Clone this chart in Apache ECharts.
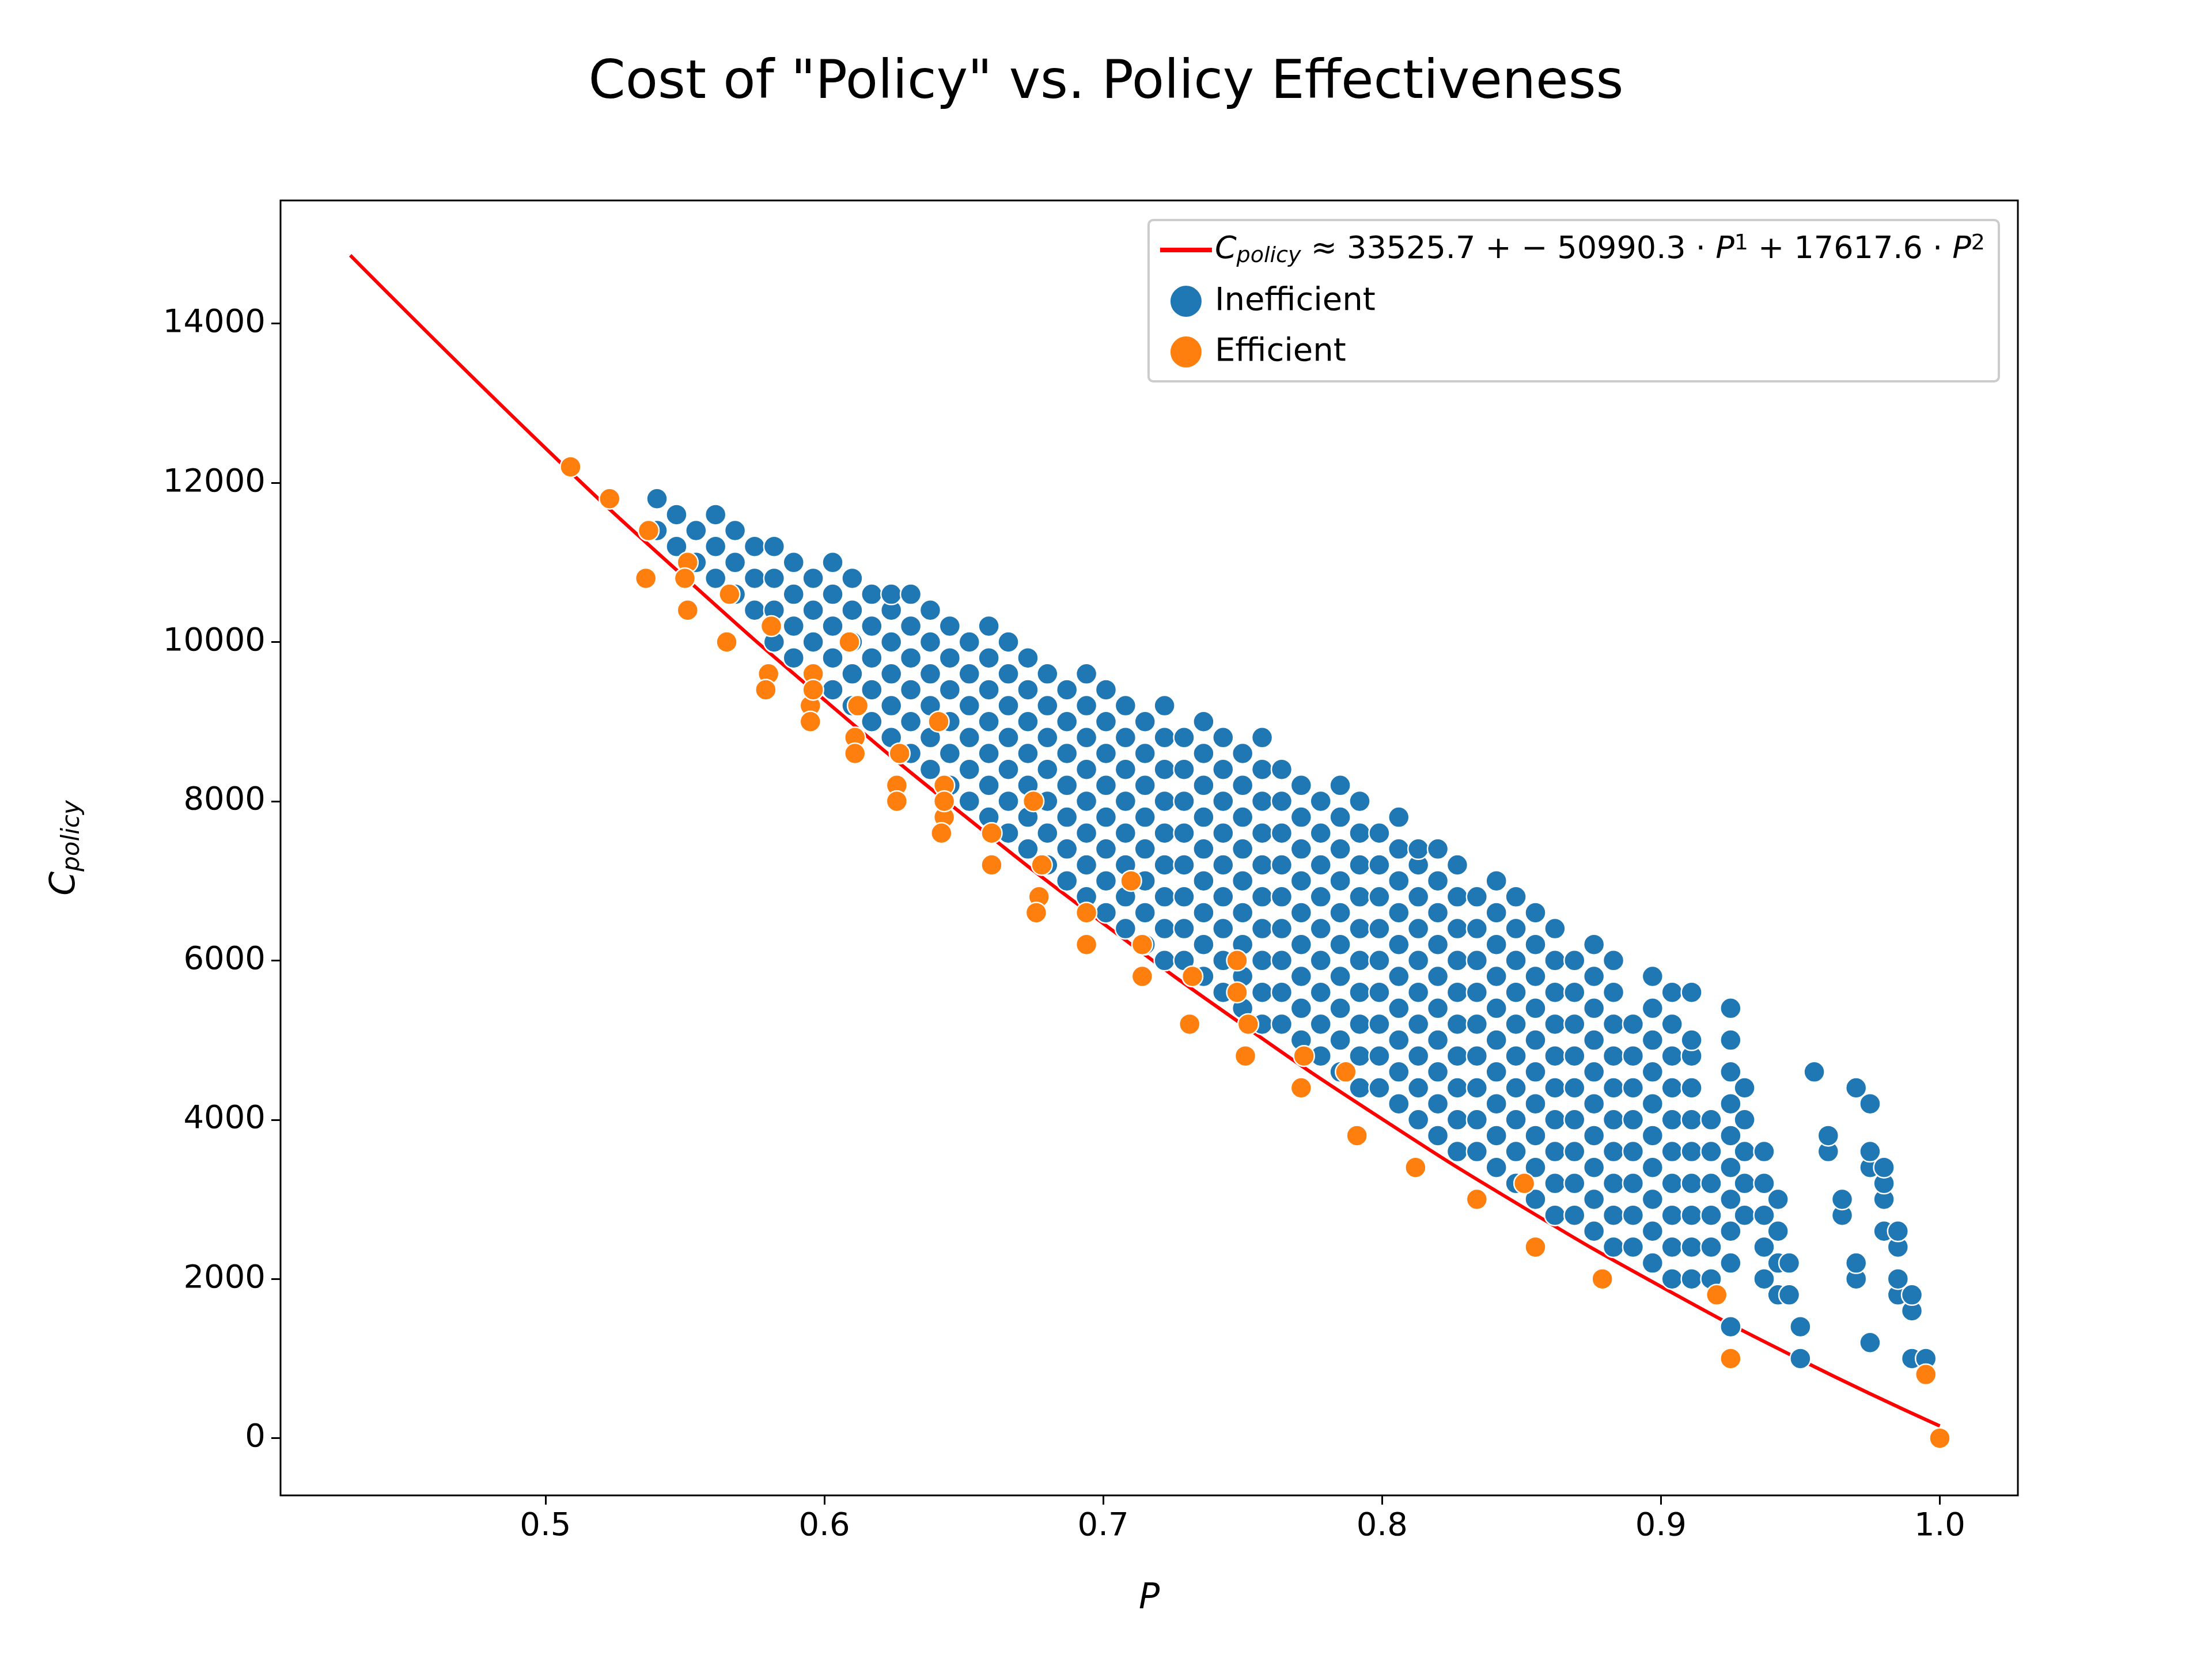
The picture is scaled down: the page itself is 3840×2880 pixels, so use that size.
<!DOCTYPE html>
<html>
<head>
<meta charset="utf-8">
<script src="https://cdn.jsdelivr.net/npm/echarts@6/dist/echarts.min.js"></script>
<style>html,body{margin:0;background:#fff}#c{width:3840px;height:2880px}</style>
</head>
<body>
<div id="c"></div>
<script>
// 拟合曲线采样点
const fitP = [0.43, 0.5, 0.55, 0.6, 0.65, 0.7, 0.75, 0.8, 0.85, 0.9, 0.95, 1.0];
const fitC = [14857, 12435, 10810, 9274, 7825, 6465, 5193, 4009, 2913, 1905, 985, 153];

// 有效点
const effP = [0.509,0.523,0.537,0.536,0.551,0.551,0.550,0.566,0.565,0.581,0.580,0.579,0.596,0.595,0.595,0.596,0.609,0.612,0.611,0.611,0.627,0.626,0.626,0.641,0.643,0.643,0.642,0.643,0.660,0.660,0.675,0.678,0.677,0.676,0.694,0.694,0.710,0.714,0.714,0.732,0.731,0.748,0.748,0.752,0.751,0.772,0.771,0.787,0.791,0.812,0.834,0.851,0.855,0.879,0.920,0.925,0.995,1.0];
const effC = [12200,11800,11400,10800,11000,10400,10800,10600,10000,10200,9600,9400,9600,9200,9000,9400,10000,9200,8800,8600,8600,8200,8000,9000,8200,7800,7600,8000,7600,7200,8000,7200,6800,6600,6600,6200,7000,6200,5800,5800,5200,6000,5600,5200,4800,4800,4400,4600,3800,3400,3000,3200,2400,2000,1800,1000,800,0];

// 无效点：按列（P 值）给出各点的成本
const ineP = [0.540,0.547,0.554,0.561,0.568,0.575,0.582,0.589,0.596,0.603,0.610,0.617,0.624,0.631,0.638,0.645,0.652,0.659,0.666,0.673,0.680,0.687,0.694,0.701,0.708,0.715,0.722,0.729,0.736,0.743,0.750,0.757,0.764,0.771,0.778,0.785,0.792,0.799,0.806,0.813,0.820,0.827,0.834,0.841,0.848,0.855,0.862,0.869,0.876,0.883,0.890,0.897,0.904,0.911,0.918,0.925,0.930,0.937,0.942,0.946,0.950,0.955,0.960,0.965,0.970,0.975,0.980,0.985,0.990,0.995];
const ineC = [
  [11400,11800],[11200,11600],[11000,11400],[10800,11200,11600],[10600,11000,11400],[10400,10800,11200],
  [10000,10400,10800,11200],[9800,10200,10600,11000],[9600,10000,10400,10800],[9400,9800,10200,10600,11000],
  [9200,9600,10000,10400,10800],[9000,9400,9800,10200,10600],[8800,9200,9600,10000,10400,10600],
  [8600,9000,9400,9800,10200,10600],[8400,8800,9200,9600,10000,10400],[8200,8600,9000,9400,9800,10200],
  [8000,8400,8800,9200,9600,10000],[7800,8200,8600,9000,9400,9800,10200],[7600,8000,8400,8800,9200,9600,10000],
  [7400,7800,8200,8600,9000,9400,9800],[7200,7600,8000,8400,8800,9200,9600],[7000,7400,7800,8200,8600,9000,9400],
  [6800,7200,7600,8000,8400,8800,9200,9600],[6600,7000,7400,7800,8200,8600,9000,9400],[6400,6800,7200,7600,8000,8400,8800,9200],
  [6200,6600,7000,7400,7800,8200,8600,9000],[6000,6400,6800,7200,7600,8000,8400,8800,9200],[6000,6400,6800,7200,7600,8000,8400,8800],
  [5800,6200,6600,7000,7400,7800,8200,8600,9000],[5600,6000,6400,6800,7200,7600,8000,8400,8800],[5400,5800,6200,6600,7000,7400,7800,8200,8600],
  [5200,5600,6000,6400,6800,7200,7600,8000,8400,8800],[5200,5600,6000,6400,6800,7200,7600,8000,8400],[5000,5400,5800,6200,6600,7000,7400,7800,8200],
  [4800,5200,5600,6000,6400,6800,7200,7600,8000],[4600,5000,5400,5800,6200,6600,7000,7400,7800,8200],[4400,4800,5200,5600,6000,6400,6800,7200,7600,8000],
  [4400,4800,5200,5600,6000,6400,6800,7200,7600],[4200,4600,5000,5400,5800,6200,6600,7000,7400,7800],[4000,4400,4800,5200,5600,6000,6400,6800,7200,7400],
  [3800,4200,4600,5000,5400,5800,6200,6600,7000,7400],[3600,4000,4400,4800,5200,5600,6000,6400,6800,7200],[3600,4000,4400,4800,5200,5600,6000,6400,6800],
  [3400,3800,4200,4600,5000,5400,5800,6200,6600,7000],[3200,3600,4000,4400,4800,5200,5600,6000,6400,6800],[3000,3400,3800,4200,4600,5000,5400,5800,6200,6600],
  [2800,3200,3600,4000,4400,4800,5200,5600,6000,6400],[2800,3200,3600,4000,4400,4800,5200,5600,6000],[2600,3000,3400,3800,4200,4600,5000,5400,5800,6200],
  [2400,2800,3200,3600,4000,4400,4800,5200,5600,6000],[2400,2800,3200,3600,4000,4400,4800,5200],[2200,2600,3000,3400,3800,4200,4600,5000,5400,5800],
  [2000,2400,2800,3200,3600,4000,4400,4800,5200,5600],[2000,2400,2800,3200,3600,4000,4400,4800,5000,5600],[2000,2400,2800,3200,3600,4000],
  [1400,2200,2600,3000,3400,3800,4200,4600,5000,5400],[2800,3200,3600,4000,4400],[2000,2400,2800,3200,3600],[1800,2200,2600,3000],
  [1800,2200],[1000,1400],[4600],[3600,3800],[2800,3000],[2000,2200,4400],[1200,3400,3600,4200],[2600,3000,3200,3400],
  [1800,2000,2400,2600],[1000,1600,1800],[1000]
];

const xTicks = [0.5, 0.6, 0.7, 0.8, 0.9, 1.0];
const yTicks = [0, 2000, 4000, 6000, 8000, 10000, 12000, 14000];

const blueData = [];
ineP.forEach((p, i) => ineC[i].forEach(c => blueData.push([p, c])));
const orangeData = effP.map((p, i) => [p, effC[i]]);
const lineData = fitP.map((p, i) => [p, fitC[i]]);

const fitName = 'fit';
const chart = echarts.init(document.getElementById('c'));
chart.setOption({
    backgroundColor: '#fff',
    animation: false,
    textStyle: { fontFamily: 'DejaVu Sans' },
    title: {
        text: 'Cost of "Policy" vs. Policy Effectiveness',
        left: 'center', top: 95,
        textStyle: { fontSize: 92, fontWeight: 'normal', color: '#000', fontFamily: 'DejaVu Sans' }
    },
    grid: { left: 487, right: 337, top: 348, bottom: 284, show: true, borderColor: '#000', borderWidth: 3 },
    legend: {
        right: 370, top: 382,
        orient: 'vertical',
        itemGap: 30,
        itemWidth: 90, itemHeight: 56,
        padding: [22, 24, 22, 20],
        borderColor: '#ccc', borderWidth: 4, borderRadius: 8,
        backgroundColor: '#fff',
        textStyle: {
            fontSize: 56, color: '#000',
            rich: {
                i: { fontStyle: 'italic', fontSize: 54 },
                sub: { fontStyle: 'italic', fontSize: 38, verticalAlign: 'bottom', padding: [22, 0, 0, 0] },
                sup: { fontSize: 38, verticalAlign: 'top', padding: [0, 0, 22, 0] },
                n: { fontSize: 54 }
            }
        },
        formatter: name => name === fitName
            ? '{i|C}{sub|policy}{n| ≈ 33525.7 + − 50990.3 · }{i|P}{sup|1}{n| + 17617.6 · }{i|P}{sup|2}'
            : name,
        data: [
            { name: fitName, icon: 'path://M0,0 L90,0 L90,8 L0,8 Z' },
            { name: 'Inefficient', icon: 'circle' },
            { name: 'Efficient', icon: 'circle' }
        ]
    },
    xAxis: {
        type: 'value', min: 0.405, max: 1.028,
        name: 'P', nameLocation: 'middle', nameGap: 150,
        nameTextStyle: { fontSize: 60, fontStyle: 'italic', color: '#000' },
        axisLine: { show: false, onZero: false },
        splitLine: { show: false },
        axisTick: { show: true, length: 16, lineStyle: { color: '#000', width: 3 }, customValues: xTicks },
        axisLabel: { fontSize: 56, color: '#000', margin: 26, customValues: xTicks, formatter: v => v.toFixed(1) }
    },
    yAxis: {
        type: 'value', min: -719, max: 15546,
        name: '{i|C}{s|policy}', nameLocation: 'middle', nameGap: 340, nameRotate: 90,
        nameTextStyle: {
            color: '#000',
            rich: {
                i: { fontSize: 60, fontStyle: 'italic' },
                s: { fontSize: 42, fontStyle: 'italic', verticalAlign: 'bottom', padding: [26, 0, 0, 0] }
            }
        },
        axisLine: { show: false, onZero: false },
        splitLine: { show: false },
        axisTick: { show: true, length: 16, lineStyle: { color: '#000', width: 3 }, customValues: yTicks },
        axisLabel: { fontSize: 56, color: '#000', margin: 26, customValues: yTicks, formatter: v => String(v) }
    },
    series: [
        {
            name: fitName, type: 'line', data: lineData, smooth: true, showSymbol: false,
            lineStyle: { color: '#ff0000', width: 6 }, itemStyle: { color: '#ff0000' }, z: 1
        },
        {
            name: 'Inefficient', type: 'scatter', data: blueData, symbolSize: 36,
            itemStyle: { color: '#1f77b4', borderColor: '#fff', borderWidth: 2.5, opacity: 1 }, z: 2
        },
        {
            name: 'Efficient', type: 'scatter', data: orangeData, symbolSize: 36,
            itemStyle: { color: '#ff7f0e', borderColor: '#fff', borderWidth: 2.5, opacity: 1 }, z: 3
        }
    ]
});
</script>
</body>
</html>
